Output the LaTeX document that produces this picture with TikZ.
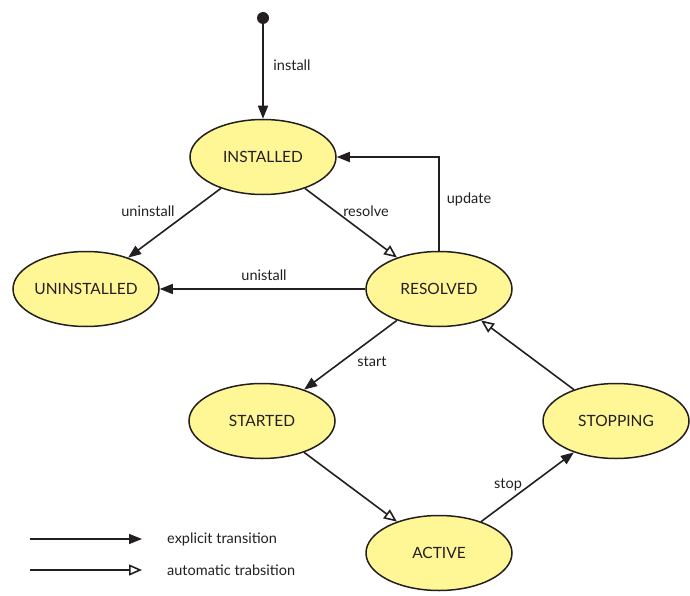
\documentclass[tikz,border=0pt]{standalone}
\usepackage{fontspec}
\setmainfont{Lato}
\usetikzlibrary{shapes.geometric,arrows.meta}
\definecolor{statefill}{RGB}{255,246,150}
\definecolor{ink}{RGB}{35,31,32}
\tikzset{
  state/.style={ellipse, draw=ink, line width=1.5pt, fill=statefill,
    minimum width=146pt, minimum height=75pt, inner sep=0pt,
    text=ink, font=\fontsize{15.5}{18}\selectfont},
  explicit/.style={draw=ink, line width=1.6pt,
    -{Triangle[length=13pt,width=10pt]}},
  automatic/.style={draw=ink, line width=1.6pt,
    -{Triangle[open,length=13pt,width=11pt,fill=white]}},
  lbl/.style={text=ink, font=\fontsize{14.5}{17}\selectfont, inner sep=0pt},
}
\begin{document}
\begin{tikzpicture}[x=1pt,y=-1pt]
  \useasboundingbox (0,0) rectangle (690,596);

  % initial pseudo-state
  \fill[ink] (263,18) circle (6pt) coordinate (init);

  % states
  \node[state] (inst)   at (263,157) {INSTALLED};
  \node[state] (uninst) at (86,289)  {UNINSTALLED};
  \node[state] (res)    at (439,289) {RESOLVED};
  \node[state] (start)  at (262,421) {STARTED};
  \node[state] (stop)   at (616,421) {STOPPING};
  \node[state] (act)    at (439,553) {ACTIVE};

  % transitions
  \draw[explicit] (init) -- (inst.north);
  \draw[explicit] (inst) -- (uninst);
  \draw[automatic] (inst) -- (res);
  \draw[explicit] (res) -- (uninst);
  \draw[explicit] (res.north) |- (inst.east);
  \draw[explicit] (res) -- (start);
  \draw[automatic] (start) -- (act);
  \draw[explicit] (act) -- (stop);
  \draw[automatic] (stop) -- (res);

  % transition labels
  \node[lbl] (linstall) at (292,65)  {install};
  \node[lbl] (luninst)  at (148,211) {uninstall};
  \node[lbl] (lresolve) at (366,211) {resolve};
  \node[lbl] (lunist)   at (264,275) {unistall};
  \node[lbl] (lupdate)  at (469,199) {update};
  \node[lbl] (lstart)   at (372,362) {start};
  \node[lbl] (lstop)    at (508,485) {stop};

  % legend
  \coordinate (e0) at (30,539);  \coordinate (e1) at (142,539);
  \coordinate (a0) at (30,570);  \coordinate (a1) at (142,570);
  \draw[explicit] (e0) -- (e1);
  \draw[automatic] (a0) -- (a1);
  \node[lbl, anchor=west] (lexp)  at (167,539) {explicit transition};
  \node[lbl, anchor=west] (lauto) at (167,570) {automatic trabsition};
\end{tikzpicture}
\end{document}
